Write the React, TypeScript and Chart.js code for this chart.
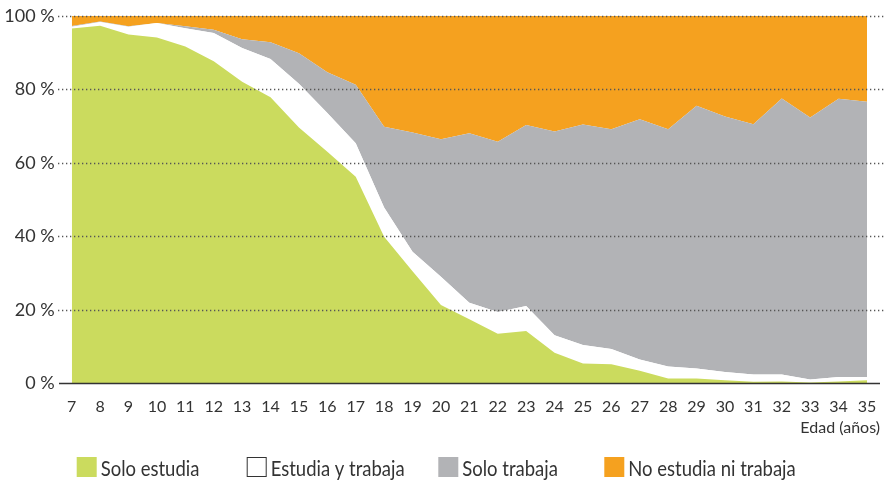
import React, { useEffect, useRef } from "react";
import { Chart, registerables } from "chart.js";

Chart.register(...registerables);

// ---- data (percent of each age group) ----
const ages = ["7", "8", "9", "10", "11", "12", "13", "14", "15", "16", "17", "18", "19", "20", "21", "22", "23", "24", "25", "26", "27", "28", "29", "30", "31", "32", "33", "34", "35"];

const soloEstudia = [96.5, 97.3, 94.9, 94.1, 91.6, 87.6, 82.0, 77.8, 69.6, 63.0, 56.2, 39.9, 30.5, 21.3, 17.4, 13.5, 14.2, 8.3, 5.4, 5.2, 3.4, 1.3, 1.3, 0.8, 0.4, 0.5, 0.2, 0.5, 0.8];
const estudiaYTrabaja = [0.5, 1.0, 2.1, 3.9, 5.0, 7.7, 9.2, 10.4, 11.9, 10.5, 9.1, 7.9, 5.3, 7.7, 4.5, 5.9, 6.8, 4.8, 5.0, 4.1, 3.1, 3.3, 2.7, 2.3, 2.0, 1.9, 0.8, 1.2, 0.9];
const soloTrabaja = [0.2, 0.1, 0.1, 0.0, 0.5, 0.9, 2.4, 4.6, 8.3, 11.1, 15.9, 22.0, 32.4, 37.4, 46.1, 46.3, 49.3, 55.4, 60.0, 59.8, 65.3, 64.5, 71.5, 69.5, 68.1, 75.1, 71.3, 75.7, 74.9];
const noEstudiaNiTrabaja = [2.8, 1.6, 2.9, 2.0, 2.9, 3.8, 6.4, 7.2, 10.2, 15.4, 18.8, 30.2, 31.8, 33.6, 32.0, 34.3, 29.7, 31.5, 29.6, 30.9, 28.2, 30.9, 24.5, 27.4, 29.5, 22.5, 27.7, 22.6, 23.4];

const yTicks = [0, 20, 40, 60, 80, 100];
const seriesLabels = ["Solo estudia", "Estudia y trabaja", "Solo trabaja", "No estudia ni trabaja"];
const axisTitle = "Edad (años)";

const colors = ["#CBDB5E", "#FFFFFF", "#B2B3B6", "#F5A11F"];
const FONT = "Lato, 'Open Sans', sans-serif";
const TEXT = "#333333";

const gridPlugin = {
  id: "dottedGrid",
  afterDatasetsDraw(chart: any) {
    const { ctx } = chart;
    const y = chart.scales.y;
    ctx.save();
    yTicks.forEach((v) => {
      const py = Math.round(y.getPixelForValue(v)) + 0.5;
      ctx.beginPath();
      if (v === 0) {
        ctx.setLineDash([]);
        ctx.strokeStyle = "#333333";
        ctx.lineWidth = 1.6;
        ctx.moveTo(59, py);
        ctx.lineTo(880, py);
      } else {
        ctx.setLineDash([1.3, 2.7]);
        ctx.strokeStyle = "#555555";
        ctx.lineWidth = 1.3;
        ctx.moveTo(58, py);
        ctx.lineTo(884, py);
      }
      ctx.stroke();
    });
    ctx.restore();
  },
};

const legendPos = [76.7, 246.7, 438.3, 604.3];

const legendPlugin = {
  id: "customLegend",
  afterDraw(chart: any) {
    const { ctx } = chart;
    ctx.save();
    // axis title
    ctx.font = `16px ${FONT}`;
    ctx.fillStyle = TEXT;
    ctx.textAlign = "right";
    ctx.textBaseline = "alphabetic";
    ctx.fillText(axisTitle, 880, 432.5);
    // legend
    seriesLabels.forEach((label, i) => {
      const x = legendPos[i];
      ctx.fillStyle = colors[i];
      ctx.fillRect(x, 457, 20, 20);
      if (i === 1) {
        ctx.strokeStyle = "#333333";
        ctx.lineWidth = 1;
        ctx.strokeRect(x + 0.5, 457.5, 19, 19);
      }
      ctx.save();
      ctx.translate(x + 24, 476);
      ctx.scale(0.88, 1);
      ctx.font = `21px ${FONT}`;
      ctx.fillStyle = TEXT;
      ctx.textAlign = "left";
      ctx.textBaseline = "alphabetic";
      ctx.fillText(label, 0, 0);
      ctx.restore();
    });
    ctx.restore();
  },
};

function zeroPadding(scale: any) {
  scale.paddingTop = 0;
  scale.paddingBottom = 0;
  scale.paddingLeft = 0;
  scale.paddingRight = 0;
}

export default function App() {
  const ref = useRef<HTMLCanvasElement>(null);
  useEffect(() => {
    document.body.style.margin = "0";
    const series = [soloEstudia, estudiaYTrabaja, soloTrabaja, noEstudiaNiTrabaja];
    const chart = new Chart(ref.current!, {
      type: "line",
      data: {
        labels: ages,
        datasets: series.map((d, i) => ({
          label: seriesLabels[i],
          data: d,
          backgroundColor: colors[i],
          borderWidth: 0,
          borderColor: colors[i],
          pointRadius: 0,
          tension: 0,
          fill: i === 0 ? "origin" : "-1",
        })),
      },
      options: {
        animation: false,
        responsive: false,
        layout: { padding: { left: 0, right: 17, top: 15.7, bottom: 0 } },
        plugins: { legend: { display: false }, tooltip: { enabled: false } },
        elements: { line: { borderWidth: 0 } },
        scales: {
          x: {
            type: "category",
            offset: false,
            grid: { display: false, drawTicks: false },
            border: { display: false },
            ticks: {
              autoSkip: false,
              maxRotation: 0,
              padding: 14,
              color: TEXT,
              font: { family: FONT, size: 16 },
            },
            afterFit(scale: any) {
              scale.height = 480 - 383.3;
              zeroPadding(scale);
            },
          },
          y: {
            stacked: true,
            min: 0,
            max: 100,
            grid: { display: false, drawTicks: false },
            border: { display: false },
            ticks: {
              stepSize: 20,
              padding: 17,
              color: TEXT,
              font: { family: FONT, size: 18 },
              callback: (v: any) => `${v} %`,
            },
            afterFit(scale: any) {
              scale.width = 71.7;
              zeroPadding(scale);
            },
          },
        },
      },
      plugins: [gridPlugin, legendPlugin],
    });
    return () => chart.destroy();
  }, []);
  return (
    <div style={{ position: "fixed", left: 0, top: 0, width: 884, height: 480 }}>
      <canvas ref={ref} width={884} height={480} style={{ display: "block" }} />
    </div>
  );
}
